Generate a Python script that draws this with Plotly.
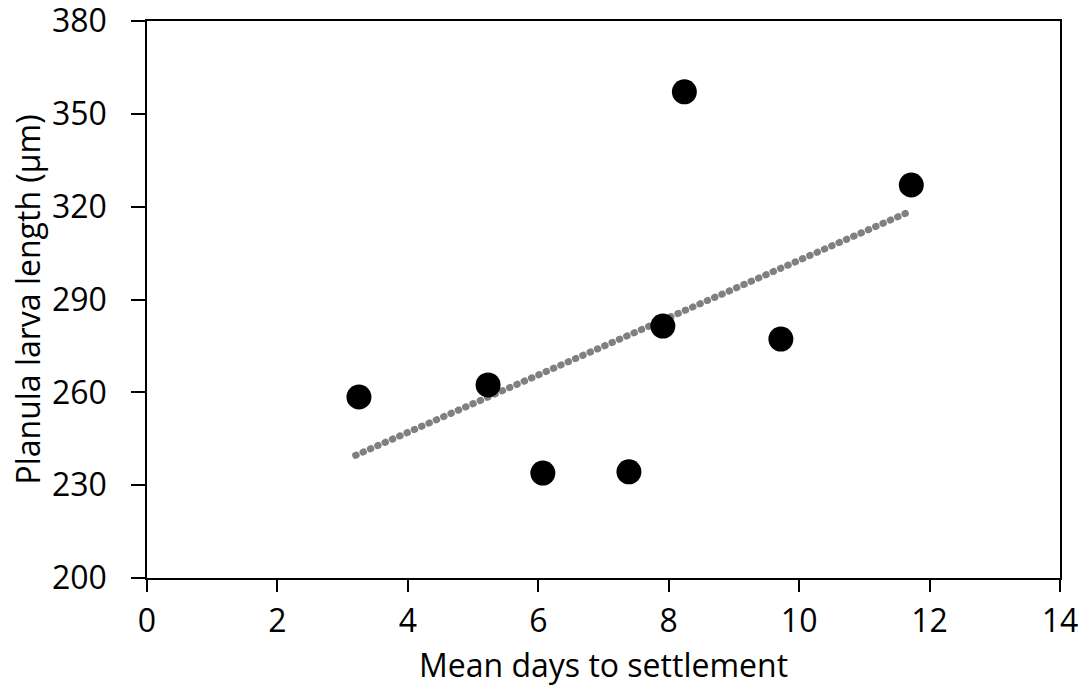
import numpy as np
import plotly.graph_objects as go

days = [3.25, 5.23, 6.07, 7.39, 7.91, 8.24, 9.72, 11.72]
length_um = [258.5, 262.4, 233.9, 234.3, 281.4, 357.1, 277.2, 327.0]
x_ticks = [0, 2, 4, 6, 8, 10, 12, 14]
y_ticks = [200, 230, 260, 290, 320, 350, 380]

slope, intercept = np.polyfit(days, length_um, 1)
tx = [min(days) - 0.05, max(days)]
ty = [slope * v + intercept for v in tx]

fig = go.Figure()
fig.add_trace(go.Scatter(x=tx, y=ty, mode="lines",
                         line=dict(color="#808080", width=7, dash="0.5px,7.5px"),
                         showlegend=False, hoverinfo="skip"))
fig.add_trace(go.Scatter(x=days, y=length_um, mode="markers",
                         marker=dict(color="black", size=25),
                         showlegend=False))

font = dict(family="Open Sans", size=32, color="black")
fig.update_layout(
    width=1087, height=695,
    margin=dict(l=147, r=27, t=21, b=117),
    plot_bgcolor="white", paper_bgcolor="white",
    font=font,
    xaxis=dict(range=[0, 14], tickvals=x_ticks, showgrid=False, zeroline=False,
               showline=True, linecolor="black", linewidth=1.5, mirror=True,
               ticks="outside", ticklen=12, tickwidth=1.5, tickcolor="black",
               automargin=False, tickfont=font, ticklabeloverflow="allow",
               ticklabelstandoff=2,
               title=dict(text="Mean days to settlement", font=font, standoff=14)),
    yaxis=dict(range=[200, 380], tickvals=y_ticks, showgrid=False, zeroline=False,
               showline=True, linecolor="black", linewidth=1.5, mirror=True,
               ticks="outside", ticklen=14, tickwidth=1.5, tickcolor="black",
               automargin=False, tickfont=font, ticklabeloverflow="allow",
               ticklabelstandoff=18,
               title=dict(text="Planula larva length (µm)", font=font, standoff=2)),
)

post = """
document.body.style.margin='0';
document.body.style.overflow='hidden';
var gd = document.getElementById('{plot_id}');
function roundCaps(){
  gd.querySelectorAll('.scatterlayer .js-line').forEach(function(e){
    e.style.strokeLinecap='round';
  });
}
roundCaps();
if (gd.on) { gd.on('plotly_afterplot', roundCaps); }
"""
fig.write_html("out.html", post_script=post, config={"displayModeBar": False})
